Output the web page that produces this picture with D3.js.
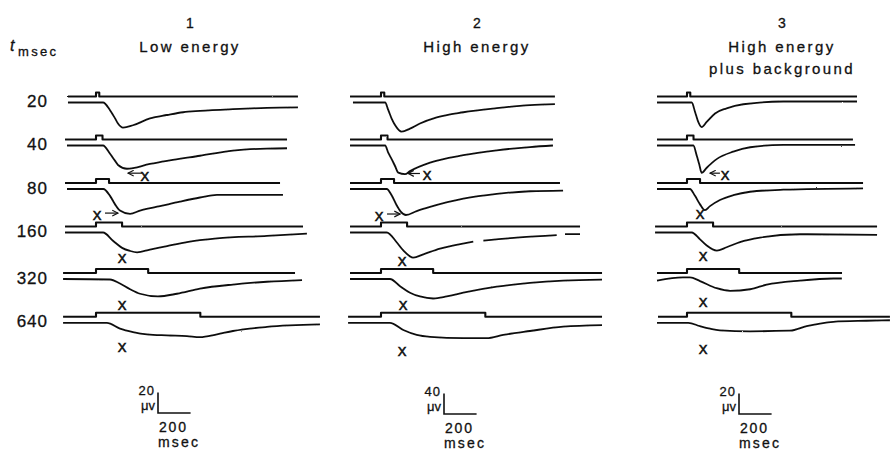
<!DOCTYPE html>
<html>
<head>
<meta charset="utf-8">
<script src="https://cdn.jsdelivr.net/npm/d3@7"></script>
<style>
  body { margin: 0; background: #fff; }
  svg text { font-family: "Liberation Sans", Arial, sans-serif; fill: #111; stroke: #111; stroke-width: 0.3px; }
</style>
</head>
<body>
<svg id="chart" width="891" height="452"></svg>
<script>
// stimulus durations, one row each
var durations = [20, 40, 80, 160, 320, 640];

var panelNumbers = ["1", "2", "3"];
var panelTitles = [["Low energy"], ["High energy"], ["High energy", "plus background"]];
var scaleBarUv = [20, 40, 20];
var scaleBarMs = 200;

// start / end of the stimulus trace, msec from stimulus onset
var stimSpan1 = [[-172, 1239], [-190, 1172], [-190, 1129], [-190, 1270], [-202, 1221], [-202, 1374]];
var stimSpan2 = [[-190, 1067], [-190, 1055], [-190, 1098], [-190, 1221], [-190, 1356], [-202, 1356]];
var stimSpan3 = [[-184, 1043], [-184, 1018], [-184, 1080], [-196, 1166], [-184, 951], [-178, 1245]];

// responses [msec, microvolt], one trace per row (null = gap in the trace)
var response1 = [
    [[-172, 0], [43, 0], [86, -7.5], [117, -15.5], [135, -20.5], [166, -24.5], [227, -22.2], [331, -15.5], [436, -12.2], [534, -9.5], [638, -8.2], [840, -6.5], [1049, -5.2], [1239, -4.8]],
    [[-178, 0], [43, 0], [86, -8], [117, -15], [135, -19], [190, -22.7], [331, -18], [436, -15], [638, -10], [840, -5], [1049, -3], [1172, -2.7]],
    [[-178, 0], [45, 0], [86, -6.7], [117, -15], [147, -21], [209, -24.3], [270, -21], [393, -16.7], [515, -12.3], [638, -8.3], [742, -5.7], [1147, -5.7]],
    [[-190, 0], [43, 0], [104, -8], [160, -15], [209, -18], [252, -19.3], [331, -16.7], [436, -13.3], [558, -9.3], [742, -5.7], [1049, -3.3], [1294, -1]],
    [[-202, 0], [86, -0.5], [147, -4.4], [209, -10], [270, -14.4], [380, -17], [497, -14.4], [638, -9.4], [840, -5.4], [1049, -2.7], [1264, -1]],
    [[-202, 0], [67, 0], [147, -5.6], [227, -9], [313, -11.3], [436, -12.3], [558, -13], [638, -14], [742, -11.3], [840, -8], [1049, -4], [1374, -1.6]]
];
var response2 = [
    [[-172, 0], [25, 0], [45, -15], [66, -32], [86, -44], [127, -57], [178, -51], [239, -41], [342, -29], [505, -19], [710, -11], [914, -5], [1067, -3]],
    [[-190, 0], [25, 0], [45, -14.5], [66, -27], [86, -40], [106, -53], [147, -56], [178, -50], [301, -33.5], [505, -19], [710, -9.5], [914, -3], [1055, 0]],
    [[-190, 0], [35, 0], [66, -12.6], [96, -31.6], [121, -44], [153, -50.7], [219, -43], [301, -35], [505, -19], [710, -9.5], [914, -4.4], [1117, -3]],
    [[-190, 0], [35, 0], [96, -19], [137, -35], [198, -49], [260, -42.5], [362, -31.6], [566, -17.7], null, [628, -15.8], [850, -9.5], [1078, -5], null, [1129, -3.2], [1221, -3]],
    [[-190, 0], [55, 0], [117, -14], [178, -26.7], [239, -34], [321, -38], [403, -34], [505, -26.7], [710, -15], [914, -7.6], [1118, -3.2], [1356, -1.3]],
    [[-202, 0], [55, 0], [137, -14], [219, -23.6], [301, -27.4], [505, -30], [648, -30], [750, -23.6], [914, -16], [1118, -7.6], [1356, -4.6]]
];
var response3 = [
    [[-184, 0], [29, 0], [49, -9], [69, -19], [90, -24], [121, -19], [172, -10.7], [243, -5.7], [345, -1.7], [591, 1], [1043, 1]],
    [[-184, 0], [39, 0], [60, -10], [75, -18.3], [90, -26.7], [121, -21.7], [182, -13.3], [284, -6], [387, -1.7], [591, 0.6], [1031, 0.6]],
    [[-184, 0], [18, 0], [49, -6.7], [80, -15], [110, -20.7], [141, -16.7], [202, -10.7], [284, -6], [387, -2.7], [591, -0.7], [1080, 0.7]],
    [[-196, 0], [29, 0], [80, -6.7], [121, -12.7], [182, -17.7], [243, -14.4], [325, -9.4], [448, -5], [693, -1.7], [1166, -2.4]],
    [[-184, -1.5], [-25, 1.5], [18, 1.5], [80, -2], [182, -9], [264, -11.5], [387, -10], [489, -5.5], [693, -1.5], [898, 0.5], [950, 0.5]],
    [[-184, 0], [8, 0], [80, -3.3], [141, -5.7], [202, -7.3], [387, -8.3], [632, -7.7], [734, -3.3], [898, 1], [1102, 2], [1245, 2.5]]
];

// "X" marks: [row, msec, microvolt]
var marks1 = [[40, 300, -30], [80, 6, -25.5], [160, 160, -25], [320, 160, -25.5], [640, 160, -24]];
var marks2 = [[40, 282, -58.5], [80, -12, -52.7], [160, 129, -57], [320, 135, -51.7], [640, 129, -56.6]];
var marks3 = [[40, 233, -29], [80, 80, -25], [160, 98, -23.5], [320, 98, -22.5], [640, 98, -26]];

// arrows: [row, from msec, to msec, microvolt]
var arrows1 = [[40, 282, 196, -27], [80, 55, 135, -23.5]];
var arrows2 = [[40, 239, 166, -54.6], [80, 37, 117, -48.8]];
var arrows3 = [[40, 202, 141, -27]];

var svg = d3.select("#chart");

var barPx = 20.5;       // height of the microvolt scale bar
var pulseH = 4;         // height of the stimulus step
var baseGap = 6;        // stimulus trace -> response trace

// vertical place of each row's stimulus trace
var rowY = d3.scaleOrdinal().domain(durations).range([96.5, 139.5, 183, 226.5, 273, 316.8]);

var panels = [
    { num: panelNumbers[0], title: panelTitles[0], bar: scaleBarUv[0], stim: stimSpan1, resp: response1, marks: marks1, arrows: arrows1, x0: 96, cx: 190, barX: 158, barY: 413 },
    { num: panelNumbers[1], title: panelTitles[1], bar: scaleBarUv[1], stim: stimSpan2, resp: response2, marks: marks2, arrows: arrows2, x0: 381, cx: 477, barX: 444, barY: 414 },
    { num: panelNumbers[2], title: panelTitles[2], bar: scaleBarUv[2], stim: stimSpan3, resp: response3, marks: marks3, arrows: arrows3, x0: 687, cx: 782, barX: 739, barY: 414 }
];

var defs = svg.append("defs");
// arrow head
defs.append("marker")
    .attr("id", "head")
    .attr("viewBox", "0 0 10 10")
    .attr("refX", 9).attr("refY", 5)
    .attr("markerWidth", 6).attr("markerHeight", 6)
    .attr("orient", "auto")
    .append("path")
    .attr("d", "M1,1 L9,5 L1,9")
    .attr("fill", "none")
    .attr("stroke", "#111")
    .attr("stroke-width", 1.6);

// a little grain, like the printed oscilloscope traces
var rough = defs.append("filter").attr("id", "rough")
    .attr("x", "-2%").attr("y", "-20%").attr("width", "104%").attr("height", "140%");
rough.append("feTurbulence").attr("type", "fractalNoise").attr("baseFrequency", 0.8)
    .attr("numOctaves", 1).attr("seed", 4).attr("result", "noise");
rough.append("feDisplacementMap").attr("in", "SourceGraphic").attr("in2", "noise")
    .attr("scale", 1.6).attr("xChannelSelector", "R").attr("yChannelSelector", "G");

// header for the row labels
svg.append("text").attr("x", 10).attr("y", 51)
    .style("font-size", "16px").style("font-style", "italic").text("t");
svg.append("text").attr("x", 18).attr("y", 56)
    .style("font-size", "13px").style("letter-spacing", "2.3px").text("msec");

// row labels
svg.selectAll("text.rowlab")
    .data(durations)
    .enter().append("text")
    .attr("class", "rowlab")
    .attr("x", 48)
    .attr("y", function(d) { return rowY(d) + 5; })
    .attr("text-anchor", "end")
    .attr("dominant-baseline", "central")
    .style("font-size", "17px")
    .style("letter-spacing", "1px")
    .text(function(d) { return d; });

panels.forEach(function(p) {
    var g = svg.append("g");
    var x = d3.scaleLinear().domain([0, scaleBarMs]).range([p.x0, p.x0 + 32.6]);

    g.append("text").attr("x", p.cx).attr("y", 28)
        .attr("text-anchor", "middle").style("font-size", "14px").text(p.num);
    p.title.forEach(function(t, i) {
        g.append("text").attr("x", p.cx).attr("y", 52 + i * 22)
            .attr("text-anchor", "middle")
            .style("font-size", "15px").style("letter-spacing", "2.4px")
            .text(t);
    });

    var traces = g.append("g").attr("filter", "url(#rough)");

    durations.forEach(function(d, i) {
        var sy = rowY(d);
        var base = sy + baseGap;
        var y = d3.scaleLinear().domain([0, -p.bar]).range([base, base + barPx]);

        // stimulus marker trace
        var span = p.stim[i];
        var stimPts = [[span[0], 0], [0, 0], [0, 1], [d, 1], [d, 0], [span[1], 0]];
        var stimLine = d3.line()
            .x(function(s) { return x(s[0]); })
            .y(function(s) { return sy - s[1] * pulseH; });
        traces.append("path")
            .attr("d", stimLine(stimPts))
            .attr("fill", "none")
            .attr("stroke", "#111")
            .attr("stroke-width", 2.1)
            .attr("stroke-linejoin", "round");

        // evoked response
        var line = d3.line()
            .defined(function(s) { return s !== null; })
            .x(function(s) { return x(s[0]); })
            .y(function(s) { return y(s[1]); })
            .curve(d3.curveMonotoneX);
        traces.append("path")
            .attr("d", line(p.resp[i]))
            .attr("fill", "none")
            .attr("stroke", "#111")
            .attr("stroke-width", 1.8);

        p.marks.filter(function(m) { return m[0] === d; }).forEach(function(m) {
            g.append("text")
                .attr("x", x(m[1])).attr("y", y(m[2]))
                .attr("text-anchor", "middle")
                .attr("dominant-baseline", "central")
                .style("font-size", "13px")
                .style("stroke-width", "0.6px")
                .text("X");
        });
        p.arrows.filter(function(a) { return a[0] === d; }).forEach(function(a) {
            g.append("line")
                .attr("x1", x(a[1])).attr("x2", x(a[2]))
                .attr("y1", y(a[3])).attr("y2", y(a[3]))
                .attr("stroke", "#111")
                .attr("stroke-width", 1.2)
                .attr("marker-end", "url(#head)");
        });
    });

    // calibration bars
    var barW = x(scaleBarMs) - x(0);
    g.append("path")
        .attr("d", "M" + p.barX + "," + (p.barY - barPx) + "V" + p.barY + "H" + (p.barX + barW))
        .attr("fill", "none")
        .attr("stroke", "#111")
        .attr("stroke-width", 1.6);
    g.append("text").attr("x", p.barX - 3).attr("y", p.barY - 18)
        .attr("text-anchor", "end").style("font-size", "13px").style("letter-spacing", "1px")
        .text(p.bar);
    g.append("text").attr("x", p.barX - 3).attr("y", p.barY - 3)
        .attr("text-anchor", "end").style("font-size", "13px")
        .text("\u03bcv");
    g.append("text").attr("x", p.barX + 1).attr("y", p.barY + 19)
        .style("font-size", "14px").style("letter-spacing", "1.8px")
        .text(scaleBarMs);
    g.append("text").attr("x", p.barX).attr("y", p.barY + 34)
        .style("font-size", "14px").style("letter-spacing", "2.2px")
        .text("msec");
});
</script>
</body>
</html>
